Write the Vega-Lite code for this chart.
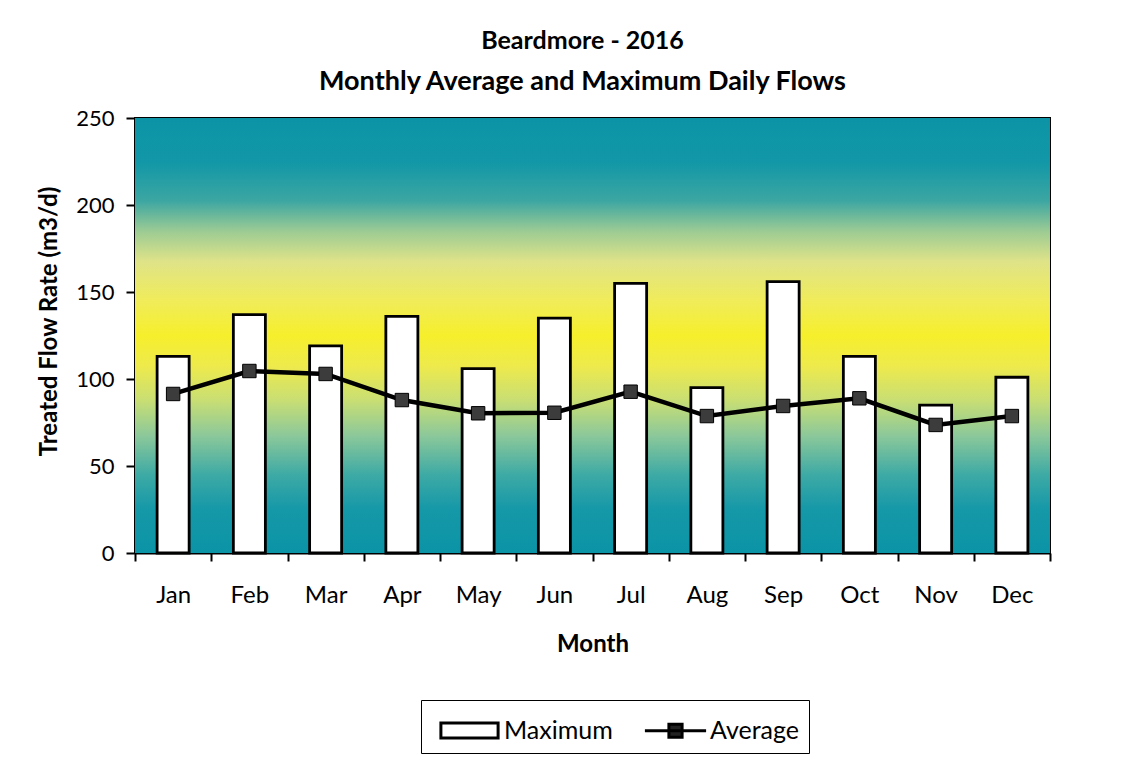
{
  "$schema": "https://vega.github.io/schema/vega-lite/v6.json",
  "autosize": {"type": "none"},
  "width": 915,
  "height": 435,
  "padding": {"left": 135, "top": 118, "right": 78, "bottom": 220},
  "background": "white",
  "title": {
    "text": "Beardmore - 2016",
    "subtitle": "Monthly Average and Maximum Daily Flows",
    "font": "Lato",
    "fontSize": 25,
    "fontWeight": "bold",
    "color": "black",
    "subtitleFont": "Lato",
    "subtitleFontSize": 27,
    "subtitleFontWeight": "bold",
    "subtitleColor": "black",
    "subtitlePadding": 15,
    "offset": 12,
    "anchor": "middle",
    "dx": -10
  },
  "config": {
    "view": {"stroke": "black", "strokeWidth": 2},
    "axis": {
      "domainColor": "black",
      "domainWidth": 2,
      "tickColor": "black",
      "tickWidth": 2,
      "labelColor": "black",
      "labelFont": "Lato",
      "titleFont": "Lato",
      "titleFontSize": 24,
      "titleFontWeight": "bold",
      "titleColor": "black",
      "grid": false
    }
  },
  "data": {
    "values": [
      {"month": "Jan", "series": "Maximum", "flow": 113},
      {"month": "Feb", "series": "Maximum", "flow": 137},
      {"month": "Mar", "series": "Maximum", "flow": 119},
      {"month": "Apr", "series": "Maximum", "flow": 136},
      {"month": "May", "series": "Maximum", "flow": 106},
      {"month": "Jun", "series": "Maximum", "flow": 135},
      {"month": "Jul", "series": "Maximum", "flow": 155},
      {"month": "Aug", "series": "Maximum", "flow": 95},
      {"month": "Sep", "series": "Maximum", "flow": 156},
      {"month": "Oct", "series": "Maximum", "flow": 113},
      {"month": "Nov", "series": "Maximum", "flow": 85},
      {"month": "Dec", "series": "Maximum", "flow": 101},
      {"month": "Jan", "series": "Average", "flow": 91.4},
      {"month": "Feb", "series": "Average", "flow": 104.6},
      {"month": "Mar", "series": "Average", "flow": 102.9},
      {"month": "Apr", "series": "Average", "flow": 87.9},
      {"month": "May", "series": "Average", "flow": 80.3},
      {"month": "Jun", "series": "Average", "flow": 80.6},
      {"month": "Jul", "series": "Average", "flow": 92.7},
      {"month": "Aug", "series": "Average", "flow": 78.7},
      {"month": "Sep", "series": "Average", "flow": 84.5},
      {"month": "Oct", "series": "Average", "flow": 88.9},
      {"month": "Nov", "series": "Average", "flow": 73.6},
      {"month": "Dec", "series": "Average", "flow": 78.7}
    ]
  },
  "encoding": {
    "x": {
      "field": "month",
      "type": "nominal",
      "sort": null,
      "scale": {"paddingInner": 0, "paddingOuter": 0},
      "axis": {
        "title": "Month",
        "labelAngle": 0,
        "labelFontSize": 24,
        "tickBand": "extent",
        "tickSize": 8,
        "labelPadding": 22,
        "titlePadding": 25
      }
    },
    "y": {
      "field": "flow",
      "type": "quantitative",
      "scale": {"domain": [0, 250], "nice": false},
      "axis": {
        "title": "Treated Flow Rate (m3/d)",
        "values": [0, 50, 100, 150, 200, 250],
        "labelFontSize": 22,
        "tickSize": 9,
        "labelPadding": 12,
        "titlePadding": 14,
        "titleY": 203
      }
    }
  },
  "layer": [
    {
      "data": {"values": [{"lo": 0, "hi": 250}]},
      "mark": {
        "type": "rect",
        "fill": {
          "gradient": "linear",
          "x1": 0, "y1": 0, "x2": 0, "y2": 1,
          "stops": [
            {"offset": 0, "color": "#0c94a6"},
            {"offset": 0.1, "color": "#1197a7"},
            {"offset": 0.19, "color": "#3ca6a2"},
            {"offset": 0.26, "color": "#9ccb94"},
            {"offset": 0.33, "color": "#dfe388"},
            {"offset": 0.42, "color": "#f0ec5a"},
            {"offset": 0.5, "color": "#f6ef2c"},
            {"offset": 0.57, "color": "#eeea4c"},
            {"offset": 0.65, "color": "#c8de74"},
            {"offset": 0.73, "color": "#8cc89a"},
            {"offset": 0.82, "color": "#3eaaa5"},
            {"offset": 0.9, "color": "#1598a8"},
            {"offset": 1, "color": "#0b94a6"}
          ]
        }
      },
      "encoding": {
        "x": null,
        "y": {"field": "lo", "type": "quantitative"},
        "y2": {"field": "hi"}
      }
    },
    {
      "transform": [{"filter": "datum.series === 'Maximum'"}],
      "mark": {"type": "bar", "fill": "white", "stroke": "black", "strokeWidth": 2.8, "width": {"band": 0.42}}
    },
    {
      "transform": [{"filter": "datum.series === 'Average'"}],
      "mark": {"type": "line", "color": "black", "strokeWidth": 4.5}
    },
    {
      "transform": [{"filter": "datum.series === 'Average'"}],
      "mark": {"type": "point", "shape": "square", "filled": true, "fill": "#3c3c3c", "stroke": "black", "strokeWidth": 1, "size": 180, "opacity": 1}
    },
    {
      "mark": {"type": "point", "opacity": 0, "strokeWidth": 3},
      "encoding": {
        "fill": {
          "field": "series",
          "type": "nominal",
          "scale": {"domain": ["Maximum", "Average"], "range": ["white", "#222222"]},
          "legend": {"title": null}
        },
        "stroke": {
          "field": "series",
          "type": "nominal",
          "scale": {"domain": ["Maximum", "Average"], "range": ["black", "black"]},
          "legend": {"title": null}
        },
        "shape": {
          "field": "series",
          "type": "nominal",
          "scale": {
            "domain": ["Maximum", "Average"],
            "range": ["M-1.43,-0.375H1.43V0.375H-1.43Z", "M-1.53,0H1.53M-0.33,-0.33H0.33V0.33H-0.33Z"]
          },
          "legend": {
            "title": null,
            "orient": "none",
            "direction": "horizontal",
            "legendX": 286,
            "legendY": 582,
            "strokeColor": "black",
            "padding": 9,
            "fillColor": "white",
            "symbolSize": 1600,
            "symbolOffset": 18,
            "symbolOpacity": 1,
            "symbolStrokeWidth": 3,
            "labelFont": "Lato",
            "labelFontSize": 25,
            "labelColor": "black",
            "labelOffset": 13,
            "columnPadding": 23
          }
        }
      }
    }
  ]
}
